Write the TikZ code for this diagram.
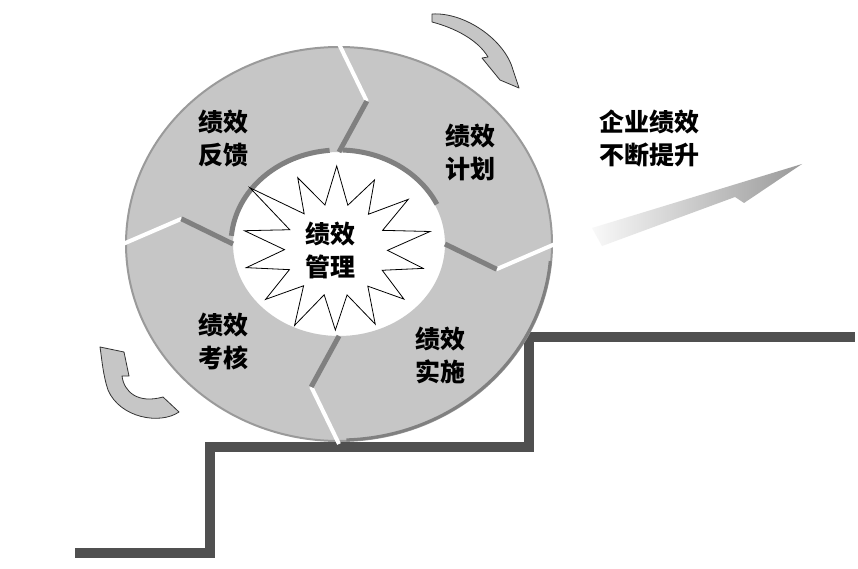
\documentclass[tikz,border=0pt]{standalone}
\usepackage{fontspec}
\newfontfamily\cjk{Noto Sans CJK SC}
\usetikzlibrary{calc}

\definecolor{ringgray}{RGB}{198,198,198}
\definecolor{edgegray}{RGB}{128,128,128}
\definecolor{stairgray}{RGB}{80,80,80}

\tikzset{
	cntext/.style = {font = \cjk\bfseries\fontsize{25}{33}\selectfont, align = center, inner sep = 0pt},
	gap/.style = {white, line width = 4pt},
	side/.style = {edgegray, line width = 5pt},
	turn/.style = {fill = ringgray, draw = black!80, line width = 0.8pt, line join = round}
}

\begin{document}
\begin{tikzpicture}[x = 1pt, y = -1pt]

	\useasboundingbox [fill = white] (0, 0) rectangle (858, 569);

	% Definition

	\def\rxo{213}	\def\ryo{197}	% outer edge of the ring
	\def\rxi{106}	\def\ryi{92}	% inner hole

	\coordinate (C) at (339, 244);

	% Stairs

	\draw [stairgray, line width = 10pt] (75, 553) -- (210, 553) -- (210, 447) -- (529, 447) -- (529, 337) -- (855, 337);

	% Ring

	\fill [ringgray, even odd rule] (C) ellipse [x radius = \rxo, y radius = \ryo] (C) ellipse [x radius = \rxi, y radius = \ryi];
	\draw [edgegray!80, line width = 2pt] (C) ellipse [x radius = \rxo, y radius = \ryo];
	\draw [edgegray, line width = 3pt] ($(C) + (5 : 212 and 196)$) arc [start angle = 5, end angle = 88, x radius = 212, y radius = 196];

	% Side faces on the inner edge

	\draw [side] ($(C) + (185 : 108 and 94)$) arc [start angle = 185, end angle = 265, x radius = 108, y radius = 94];
	\draw [side] ($(C) + (272 : 108 and 94)$) arc [start angle = 272, end angle = 335, x radius = 108, y radius = 94];

	% Gaps between the four segments

	\foreach \t in {-90, 0, 90, 180}
	{
		\pgfmathsetmacro{\h}{\t + 10}
		\coordinate (tip) at ($(C) + (\h : 160 and 145)$);
		\draw [gap] ($(C) + (\t : 216 and 200)$) -- (tip);
		\draw [side] (tip) -- ($(C) + (\t : 106 and 92)$);
	}

	% Star in the middle

	\begin{scope} [shift = {(336, 250)}, xscale = 1.12]
		\draw [fill = white, line width = 0.8pt, line join = miter] (-141 : 99)
			\foreach \k / \r in {1/80, 2/84, 3/78, 4/82, 5/86, 6/80, 7/78, 8/82, 9/80, 10/84, 11/80, 12/82, 13/84}
			{ -- ({-141 + (\k - 0.5) * 25.714} : 46) -- ({-141 + \k * 25.714} : \r) }
			-- ({-141 + 13.5 * 25.714} : 46) -- cycle;
	\end{scope}

	% Texts

	\node [cntext] (core) at (330, 250) {绩效\\管理};
	\node [cntext] (feedback) at (223, 139) {绩效\\反馈};
	\node [cntext] (plan) at (470, 152) {绩效\\计划};
	\node [cntext] (run) at (440, 355) {绩效\\实施};
	\node [cntext] (check) at (223, 341) {绩效\\考核};
	\node [cntext] (rise) at (649, 139) {企业绩效\\不断提升};

	% Turning arrows

	\filldraw [turn] (432, 14) .. controls (465, 12) and (505, 40) .. (513, 70) -- (519, 88) -- (500, 80)
		-- (482, 58) -- (488, 57) .. controls (478, 40) and (455, 28) .. (432, 22) -- cycle;
	\filldraw [turn] (100, 347) -- (124, 352) -- (129, 376) -- (122, 376)
		.. controls (124, 392) and (138, 404) .. (163, 397) -- (179, 412)
		.. controls (160, 425) and (120, 418) .. (108, 390)
		.. controls (103, 375) and (102, 360) .. (100, 347) -- cycle;

	% Rising arrow

	\shade [left color = gray!5, right color = gray!80] (592, 228) -- (802, 164) -- (744, 203) -- (735, 197) -- (602, 246) -- cycle;

\end{tikzpicture}
\end{document}
